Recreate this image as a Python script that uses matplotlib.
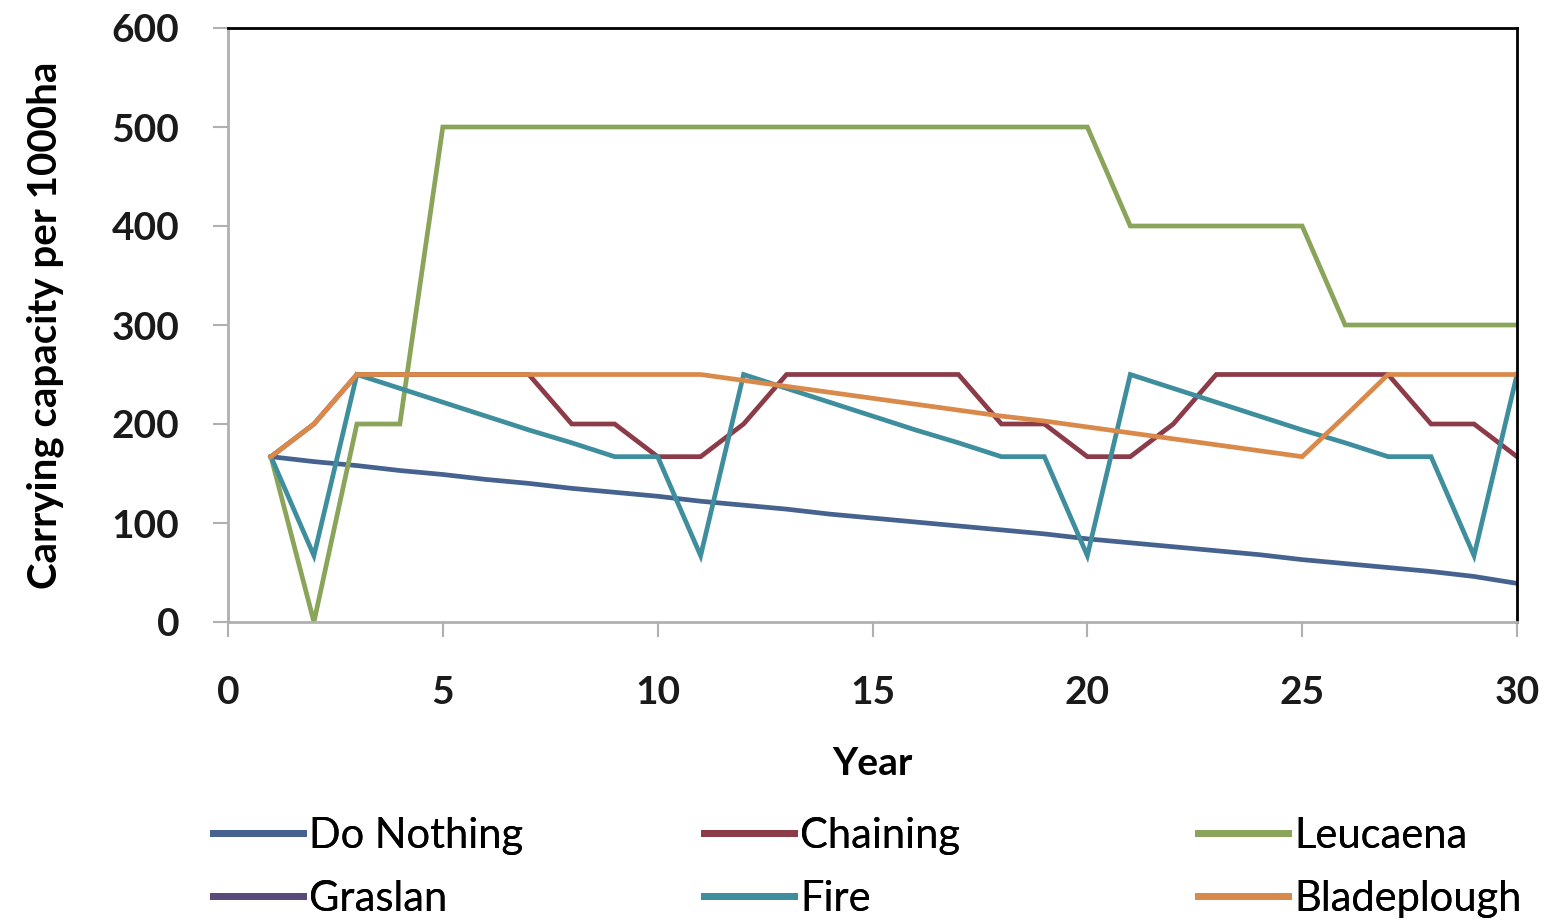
import numpy as np
import matplotlib
matplotlib.use("Agg")
import matplotlib.pyplot as plt
from matplotlib.lines import Line2D

# carrying capacity per 1000ha for each treatment, years 1..30
years = list(range(1, 31))

do_nothing = [167, 162, 158, 153, 149, 144, 140, 135, 131, 127,
              122, 118, 114, 109, 105, 101, 97, 93, 89, 84,
              80, 76, 72, 68, 63, 59, 55, 51, 46, 39]
chaining = [167, 200, 250, 250, 250, 250, 250, 200, 200, 167,
            167, 200, 250, 250, 250, 250, 250, 200, 200, 167,
            167, 200, 250, 250, 250, 250, 250, 200, 200, 167]
leucaena = [167, 0, 200, 200, 500, 500, 500, 500, 500, 500,
            500, 500, 500, 500, 500, 500, 500, 500, 500, 500,
            400, 400, 400, 400, 400, 300, 300, 300, 300, 300]
graslan = []
fire = [167, 67, 250, 236, 222, 208, 194, 181, 167, 167,
        67, 250, 236, 222, 208, 194, 181, 167, 167, 67,
        250, 236, 222, 208, 194, 181, 167, 167, 67, 250]
bladeplough = [167, 200, 250, 250, 250, 250, 250, 250, 250, 250,
               250, 244, 238, 232, 226, 220, 214, 208, 203, 197,
               191, 185, 179, 173, 167, 208, 250, 250, 250, 250]

names = ["Do Nothing", "Chaining", "Leucaena", "Graslan", "Fire", "Bladeplough"]
series = [do_nothing, chaining, leucaena, graslan, fire, bladeplough]
colors = ["#46628e", "#8c3b48", "#8aa45a", "#5a4a7a", "#3e8e9e", "#d98a4b"]

fig = plt.figure(figsize=(15.46, 9.23), dpi=100)
ax = fig.add_axes([228 / 1546, 1 - 622 / 923, (1517 - 228) / 1546, (622 - 28) / 923])

for name, vals, c in zip(names, series, colors):
    ax.plot(years[:len(vals)], vals, color=c, lw=3.4, label=name,
            solid_joinstyle="miter")

ax.set_xlim(0, 30)
ax.set_ylim(0, 600)
ax.set_xticks(range(0, 31, 5))
ax.set_yticks(range(0, 601, 100))

for s in ["left", "bottom"]:
    ax.spines[s].set_color("#b0b0b0")
    ax.spines[s].set_linewidth(2)
for s in ["top", "right"]:
    ax.spines[s].set_color("black")
    ax.spines[s].set_linewidth(2)

ax.tick_params(axis="both", direction="out", length=11, width=1.5,
               color="#b0b0b0", labelsize=28)
ax.tick_params(axis="y", pad=24)
ax.tick_params(axis="x", pad=27)
for lab in ax.get_xticklabels() + ax.get_yticklabels():
    lab.set_fontfamily("Lato")
    lab.set_fontweight("bold")
    lab.set_color("#1a1a1a")

ax.set_xlabel("Year", fontsize=28, fontweight="bold", family="Lato", labelpad=26)
ax.set_ylabel("Carrying capacity per 1000ha", fontsize=29, fontweight="bold",
              family="Lato", labelpad=34)

# legend laid out as three columns, two rows each
cols = [(0, 3), (1, 4), (2, 5)]
xs = [213 / 1546, 704 / 1546, 1198 / 1546]
for (i, j), x in zip(cols, xs):
    handles = [Line2D([], [], color=colors[k], lw=5) for k in (i, j)]
    leg = fig.legend(handles, [names[i], names[j]], loc="upper left",
                     bbox_to_anchor=(x, 1 - 817 / 923), frameon=False,
                     borderpad=0, borderaxespad=0, handlelength=2.15,
                     handletextpad=0.15, labelspacing=0.6,
                     prop={"family": "Lato", "size": 30})
    fig.add_artist(leg)

fig.savefig("out.png", dpi=100)
